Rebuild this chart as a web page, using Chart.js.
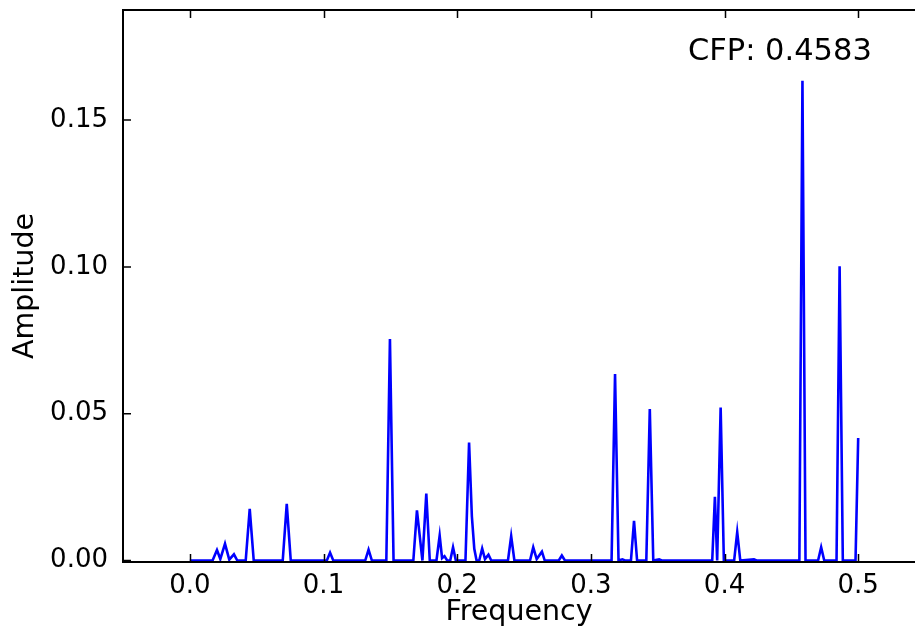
<!DOCTYPE html>
<html>
<head>
<meta charset="utf-8">
<script src="https://cdn.jsdelivr.net/npm/chart.js@4/dist/chart.umd.min.js"></script>
<style>
  html, body { margin: 0; padding: 0; background: #fff; overflow: hidden; }
  #wrap { position: absolute; left: 0; top: 0; width: 915px; height: 629px; }
</style>
</head>
<body>
<div id="wrap"><canvas id="c"></canvas></div>
<script>
// Amplitude spectrum: frequency / amplitude pairs of the trace
const freq = [
  0.000, 0.017, 0.0203, 0.0228, 0.0263, 0.0295, 0.0330, 0.0355,
  0.0418, 0.0448, 0.0478,
  0.0695, 0.0725, 0.0755,
  0.1025, 0.1049, 0.1073,
  0.1312, 0.1337, 0.1362,
  0.1470, 0.1497, 0.1524,
  0.1672, 0.1699, 0.1740, 0.1769, 0.1795,
  0.1845, 0.1869, 0.1887, 0.1905, 0.1925,
  0.1948, 0.1969, 0.1990,
  0.2062, 0.2089, 0.2110, 0.2128, 0.2145,
  0.2165, 0.2187, 0.2208, 0.2234, 0.2255,
  0.2380, 0.2404, 0.2428,
  0.2545, 0.2569, 0.2595, 0.2634, 0.2655,
  0.2760, 0.2783, 0.2806,
  0.3155, 0.3181, 0.3207, 0.3236, 0.3255,
  0.3300, 0.3323, 0.3346,
  0.3415, 0.3441, 0.3467, 0.3511, 0.3530,
  0.3908, 0.3928, 0.3945, 0.3971, 0.3995,
  0.4072, 0.4095, 0.4118, 0.4220, 0.4240,
  0.4560, 0.4583, 0.4606,
  0.4700, 0.4723, 0.4746,
  0.4838, 0.4861, 0.4885,
  0.4980, 0.5000
];
const amplitude = [
  0, 0, 0.0036, 0.0005, 0.0057, 0.0003, 0.0021, 0,
  0, 0.0176, 0,
  0, 0.0193, 0,
  0, 0.0027, 0,
  0, 0.0037, 0,
  0, 0.0754, 0,
  0, 0.0171, 0, 0.0228, 0,
  0, 0.0085, 0.0008, 0.0015, 0,
  0, 0.0045, 0,
  0, 0.0402, 0.0150, 0.0040, 0,
  0, 0.0041, 0.0005, 0.0020, 0,
  0, 0.0083, 0,
  0, 0.0045, 0.0005, 0.0030, 0,
  0, 0.0017, 0,
  0, 0.0635, 0, 0.0004, 0,
  0, 0.0135, 0,
  0, 0.0516, 0, 0.0004, 0,
  0, 0.0217, 0, 0.0521, 0,
  0, 0.0097, 0, 0.0004, 0,
  0, 0.1634, 0,
  0, 0.0045, 0,
  0, 0.1002, 0,
  0, 0.0417
];

// Characteristic frequency peak, printed in the corner
const cfp = 0.4583;

// Axis ticks and visible ranges (the plot runs off the right edge)
const xTicks = [0.0, 0.1, 0.2, 0.3, 0.4, 0.5];
const xTickLabels = ['0.0', '0.1', '0.2', '0.3', '0.4', '0.5'];
const yTicks = [0.00, 0.05, 0.10, 0.15];
const yTickLabels = ['0.00', '0.05', '0.10', '0.15'];
const xRange = [-0.05, 0.5425];
const yRange = [-0.0005, 0.1875];

const FONT = "'DejaVu Sans', 'Liberation Sans', sans-serif";

const points = freq.map((f, i) => ({ x: f, y: amplitude[i] }));

// Frame (left, top, bottom) with inward tick marks, plus the CFP note
const framePlugin = {
  id: 'frame',
  afterDatasetsDraw(chart) {
    const { ctx, chartArea: a, scales: { x, y } } = chart;
    const len = 8;
    ctx.save();
    ctx.strokeStyle = '#000';
    ctx.lineWidth = 1.5;
    ctx.beginPath();
    xTicks.forEach(v => {
      const px = Math.round(x.getPixelForValue(v)) + 0.5;
      ctx.moveTo(px, a.bottom); ctx.lineTo(px, a.bottom - len);
      ctx.moveTo(px, a.top); ctx.lineTo(px, a.top + len);
    });
    yTicks.forEach(v => {
      const py = y.getPixelForValue(v);
      ctx.moveTo(a.left, py); ctx.lineTo(a.left + len, py);
    });
    ctx.stroke();
    ctx.lineWidth = 2;
    ctx.beginPath();
    ctx.moveTo(a.right + 2, a.top);
    ctx.lineTo(a.left, a.top);
    ctx.lineTo(a.left, a.bottom);
    ctx.lineTo(a.right + 2, a.bottom);
    ctx.stroke();

    ctx.fillStyle = '#000';
    ctx.font = '30.5px ' + FONT;
    ctx.textAlign = 'left';
    ctx.textBaseline = 'alphabetic';
    ctx.fillText('CFP: ' + cfp.toFixed(4), x.getPixelForValue(0.3726), y.getPixelForValue(0.1705));
    ctx.restore();
  }
};

new Chart(document.getElementById('c'), {
  type: 'scatter',
  data: {
    datasets: [{
      data: points,
      showLine: true,
      borderColor: '#0000ff',
      borderWidth: 2.6,
      pointRadius: 0,
      tension: 0,
      fill: false
    }]
  },
  options: {
    responsive: true,
    maintainAspectRatio: false,
    animation: false,
    events: [],
    layout: { padding: { left: 0, right: 0, top: 10, bottom: 0 } },
    plugins: {
      legend: { display: false },
      tooltip: { enabled: false },
      title: { display: false }
    },
    scales: {
      x: {
        type: 'linear',
        min: xRange[0],
        max: xRange[1],
        grid: { display: false, drawTicks: false },
        border: { display: false },
        afterBuildTicks: s => { s.ticks = xTicks.map(v => ({ value: v })); },
        afterFit: s => { s.height = 67; s.paddingLeft = 0; s.paddingRight = 0; },
        ticks: {
          padding: 9,
          color: '#000',
          font: { family: FONT, size: 26 },
          callback: (v, i) => xTickLabels[i]
        },
        title: {
          display: true,
          text: 'Frequency',
          color: '#000',
          font: { family: FONT, size: 28.5, lineHeight: 1 },
          padding: { top: 0, bottom: 2 }
        }
      },
      y: {
        type: 'linear',
        min: yRange[0],
        max: yRange[1],
        grid: { display: false, drawTicks: false },
        border: { display: false },
        afterBuildTicks: s => { s.ticks = yTicks.map(v => ({ value: v })); },
        afterFit: s => { s.width = 123; s.paddingTop = 0; s.paddingBottom = 0; },
        ticks: {
          padding: 15,
          color: '#000',
          font: { family: FONT, size: 26 },
          callback: (v, i) => yTickLabels[i]
        },
        title: {
          display: true,
          text: 'Amplitude',
          color: '#000',
          font: { family: FONT, size: 28.5 },
          padding: { top: 8, bottom: 0 }
        }
      }
    }
  },
  plugins: [framePlugin]
});
</script>
</body>
</html>
